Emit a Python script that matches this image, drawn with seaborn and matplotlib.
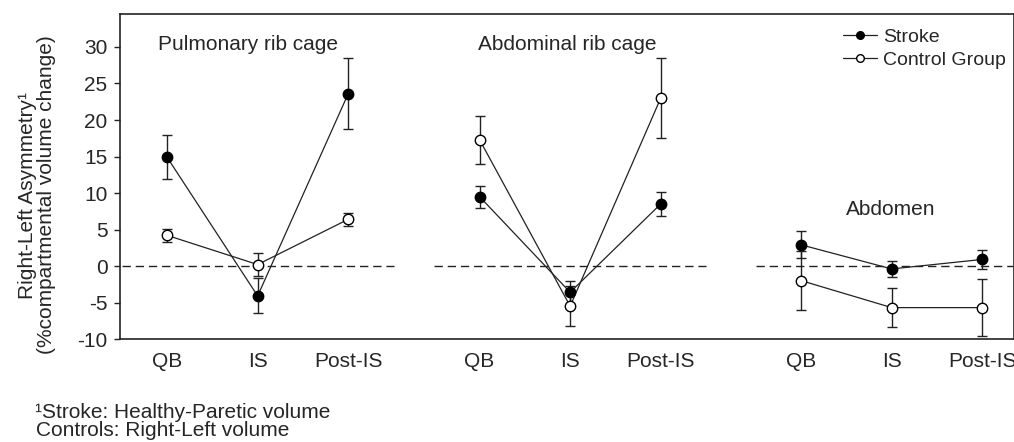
import numpy as np
import pandas as pd
import seaborn as sns
import matplotlib.pyplot as plt
from matplotlib.lines import Line2D

sns.set_style("white")
plt.rcParams['font.family'] = ['Liberation Sans', 'DejaVu Sans']
plt.rcParams['axes.unicode_minus'] = False

# values
conditions = ['QB', 'IS', 'Post-IS']
panels = ['Pulmonary rib cage', 'Abdominal rib cage', 'Abdomen']
panel_x = [[0, 1, 2], [3.45, 4.45, 5.45], [7, 8, 9]]

stroke_mean = [[14.9, -4.1, 23.6], [9.5, -3.6, 8.5], [2.9, -0.4, 0.9]]
stroke_err = [[3.0, 2.4, 4.9], [1.5, 1.6, 1.65], [1.85, 1.05, 1.3]]
control_mean = [[4.2, 0.2, 6.4], [17.3, -5.5, 23.0], [-2.0, -5.7, -5.7]]
control_err = [[0.9, 1.6, 0.9], [3.3, 2.7, 5.5], [4.0, 2.7, 3.95]]

rows = []
for p, name in enumerate(panels):
    for i, c in enumerate(conditions):
        rows.append(dict(panel=name, x=panel_x[p][i], cond=c, group='Stroke',
                         value=stroke_mean[p][i], err=stroke_err[p][i]))
        rows.append(dict(panel=name, x=panel_x[p][i], cond=c, group='Control Group',
                         value=control_mean[p][i], err=control_err[p][i]))
df = pd.DataFrame(rows)

fs = 15
fig = plt.figure(figsize=(10.14, 4.42), dpi=100)
ax = fig.add_axes([0.1183, 0.233, 0.8817, 0.735])

# zero reference lines per panel
for xs in panel_x:
    ax.plot([xs[0] - 0.5, xs[-1] + 0.5], [0, 0], ls=(0, (6, 3.5)), color='#222222', lw=1.0, zorder=1)

faces = {'Stroke': 'black', 'Control Group': 'white'}
for grp in ['Control Group', 'Stroke']:
    sub = df[df['group'] == grp]
    ax.errorbar(sub['x'], sub['value'], yerr=sub['err'], fmt='none', ecolor='#222222',
                elinewidth=1.0, capsize=3.5, capthick=1.0, zorder=2)
    for name in panels:
        part = sub[sub['panel'] == name]
        sns.lineplot(data=part, x='x', y='value', ax=ax, color='#222222', lw=0.9,
                     marker='o', markersize=7.5, markerfacecolor=faces[grp],
                     markeredgecolor='black', markeredgewidth=1.0, zorder=3,
                     estimator=None, sort=False)

ax.set_xlim(-0.52, 9.35)
ax.set_ylim(-10, 34.5)
ax.set_yticks(range(-10, 31, 5))
ax.set_xticks([x for xs in panel_x for x in xs])
ax.set_xticklabels(conditions * 3)
ax.tick_params(axis='y', direction='out', length=4.5, width=1, labelsize=fs, left=True,
               color='#222222', pad=4.5)
ax.tick_params(axis='x', length=0, labelsize=fs, pad=9)
ax.set_xlabel('')
ax.set_ylabel('Right-Left Asymmetry¹\n(%compartmental volume change)', fontsize=fs,
              linespacing=1.0)
ax.yaxis.set_label_coords(-0.072, 0.443)
for s in ax.spines.values():
    s.set_color('#222222')
    s.set_linewidth(1.2)

ax.text(-0.1, 30.3, 'Pulmonary rib cage', fontsize=fs, va='center', ha='left')
ax.text(4.415, 30.3, 'Abdominal rib cage', fontsize=fs, va='center', ha='center')
ax.text(7.99, 7.8, 'Abdomen', fontsize=fs, va='center', ha='center')

handles = [
    Line2D([], [], color='#222222', lw=0.9, marker='o', markersize=5.5,
           markerfacecolor='black', markeredgecolor='black'),
    Line2D([], [], color='#222222', lw=0.9, marker='o', markersize=5.5,
           markerfacecolor='white', markeredgecolor='black'),
]
fig.legend(handles, ['Stroke', 'Control Group'], loc='upper left',
           bbox_to_anchor=(843 / 1014, 1 - 28 / 442), frameon=False, fontsize=14,
           handlelength=1.75, handletextpad=0.3, labelspacing=0.3,
           borderpad=0, borderaxespad=0)

fig.text(35 / 1014, 1 - 413 / 442, '¹Stroke: Healthy-Paretic volume', fontsize=fs, va='center')
fig.text(36 / 1014, 1 - 431 / 442, 'Controls: Right-Left volume', fontsize=fs, va='center')

fig.savefig('out.png', dpi=100)
